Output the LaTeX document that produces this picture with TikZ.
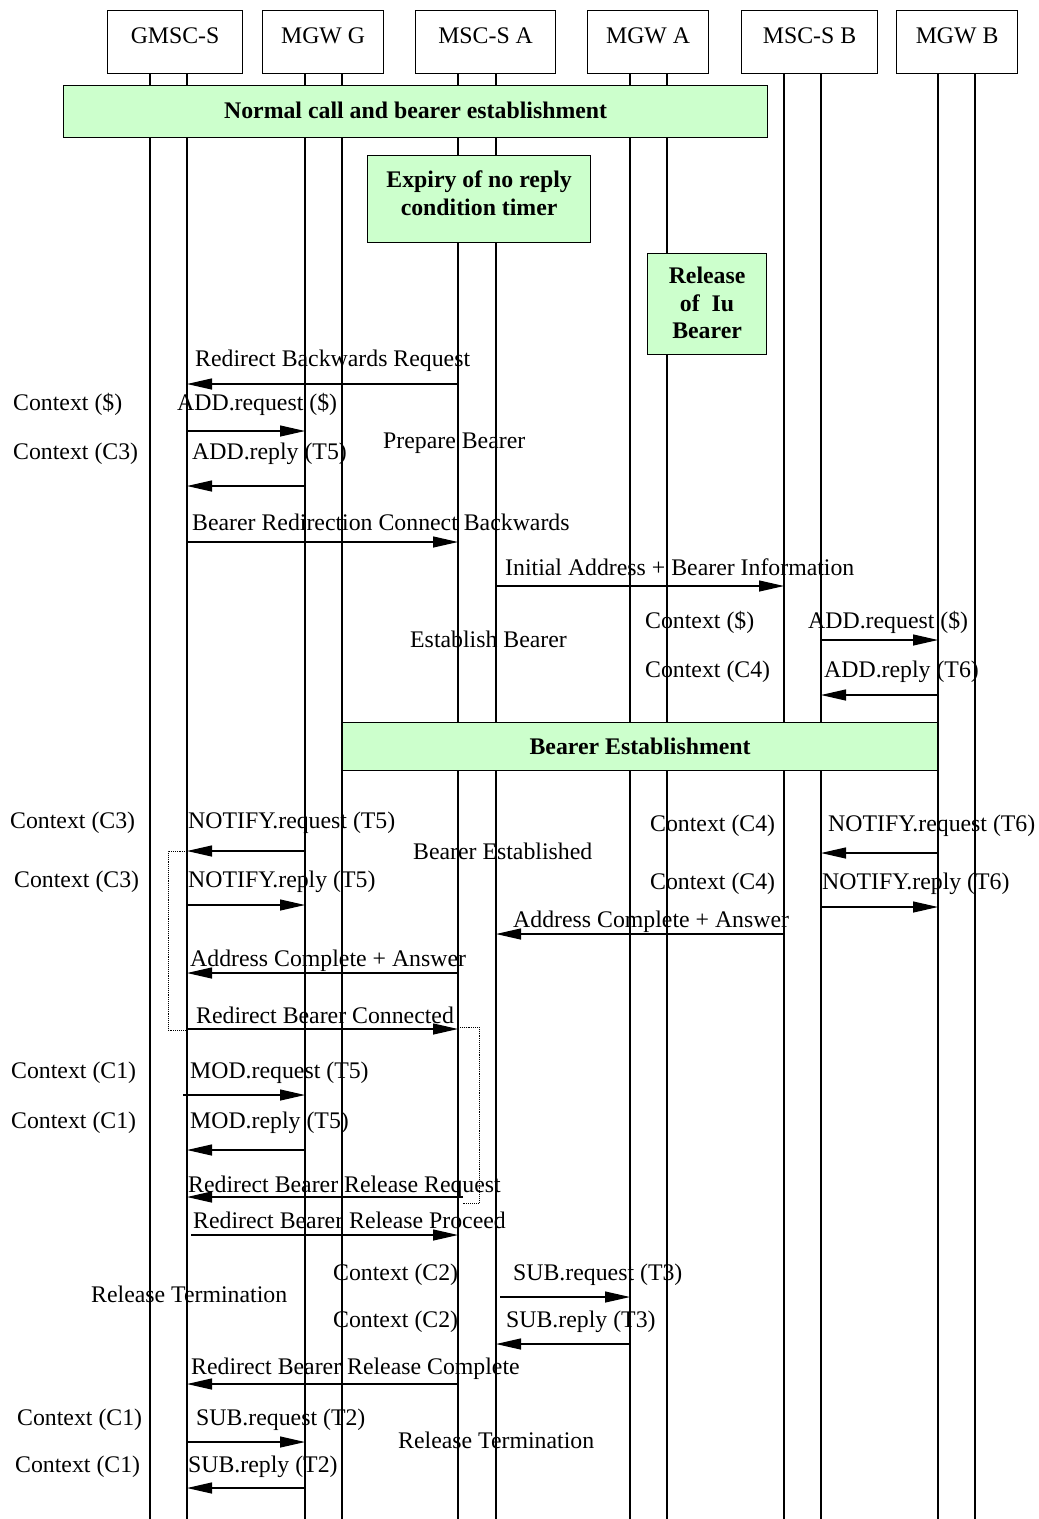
\documentclass[tikz,border=0pt]{standalone}
\usepackage{fontspec}
\setmainfont{Liberation Serif}
\usetikzlibrary{arrows.meta}
\definecolor{palegreen}{HTML}{CCFFCC}
\tikzset{
  every node/.style={font=\fontsize{23.8}{28}\selectfont},
  headbox/.style={draw, line width=1.2pt, anchor=north west, inner sep=0},
  greenbox/.style={draw, line width=1.2pt, fill=palegreen, anchor=north west, inner sep=0},
  life/.style={line width=1.2pt},
  msg/.style={line width=1.2pt, -{Triangle[length=25pt,width=11pt]}},
  txt/.style={anchor=base west, inner sep=0},
  ctxt/.style={anchor=base, inner sep=0},
  bracket/.style={line width=0.9pt, densely dotted}
}
\newcommand{\msgarrow}[3]{\draw[msg] (#1 |- 0,#3) -- (#2 |- 0,#3);}
\begin{document}
\begin{tikzpicture}[x=1pt,y=-1pt]
\useasboundingbox (0,0) rectangle (1039,1519);
% lifeline anchors
\coordinate (gL) at (150,73);  \coordinate (gR) at (187,73);
\coordinate (mgL) at (305,73); \coordinate (mgR) at (342,73);
\coordinate (aL) at (458,73);  \coordinate (aR) at (496,73);
\coordinate (maL) at (630,73); \coordinate (maR) at (667,73);
\coordinate (bL) at (784,73);  \coordinate (bR) at (821,73);
\coordinate (mbL) at (938,73); \coordinate (mbR) at (975,73);
\foreach \c in {gL,gR,mgL,mgR,aL,aR,maL,maR,bL,bR,mbL,mbR}
  \draw[life] (\c) -- (\c |- 0,1519);
% head boxes
\node[headbox, minimum width=135pt, minimum height=63pt] (gmsc) at (107,10) {};
\node[headbox, minimum width=121pt, minimum height=63pt] (mgwg) at (262,10) {};
\node[headbox, minimum width=140pt, minimum height=63pt] (msca) at (415,10) {};
\node[headbox, minimum width=121pt, minimum height=63pt] (mgwa) at (587,10) {};
\node[headbox, minimum width=136pt, minimum height=63pt] (mscb) at (741,10) {};
\node[headbox, minimum width=121pt, minimum height=63pt] (mgwb) at (896,10) {};
\node[ctxt] (gmscT) at (gmsc.north |- 0,43) {GMSC-S};
\node[ctxt] (mgwgT) at (mgwg.north |- 0,43) {MGW G};
\node[ctxt] (mscaT) at (msca.north |- 0,43) {MSC-S A};
\node[ctxt] (mgwaT) at (mgwa.north |- 0,43) {MGW A};
\node[ctxt] (mscbT) at (mscb.north |- 0,43) {MSC-S B};
\node[ctxt] (mgwbT) at (mgwb.north |- 0,43) {MGW B};
% green boxes
\node[greenbox, minimum width=704pt, minimum height=52pt] (normal) at (63,85) {};
\node[ctxt] (normalT) at (normal.north |- 0,118) {\bfseries Normal call and bearer establishment};
\node[greenbox, minimum width=223pt, minimum height=87pt] (expiry) at (367,155) {};
\node[ctxt] (expiryT1) at (expiry.north |- 0,187) {\bfseries Expiry of no reply};
\node[ctxt] (expiryT2) at (expiry.north |- 0,215) {\bfseries condition timer};
\node[greenbox, minimum width=119pt, minimum height=101pt] (iu) at (647,253) {};
\node[ctxt] (iuT1) at (iu.north |- 0,283) {\bfseries Release};
\node[ctxt] (iuT2) at (iu.north |- 0,311) {\bfseries of~ Iu};
\node[ctxt] (iuT3) at (iu.north |- 0,338) {\bfseries Bearer};
\node[greenbox, minimum width=595pt, minimum height=48pt] (bearest) at (342,722) {};
\node[ctxt] (bearestT) at (bearest.north |- 0,754) {\bfseries Bearer Establishment};
% messages
\msgarrow{aL}{gR}{384}
\msgarrow{gR}{mgL}{431}
\msgarrow{mgL}{gR}{486}
\msgarrow{gR}{aL}{542}
\msgarrow{aR}{bL}{586}
\msgarrow{bR}{mbL}{640}
\msgarrow{mbL}{bR}{695}
\msgarrow{mgL}{gR}{851}
\msgarrow{mbL}{bR}{853}
\msgarrow{gR}{mgL}{905}
\msgarrow{bR}{mbL}{907}
\msgarrow{bL}{aR}{934}
\msgarrow{aL}{gR}{973}
\msgarrow{gR}{aL}{1029}
\coordinate (modS) at (183,1095);
\draw[msg] (modS) -- (mgL |- modS);
\msgarrow{mgL}{gR}{1150}
\coordinate (rbrrS) at (463,1197);
\draw[msg] (rbrrS) -- (gR |- rbrrS);
\coordinate (rbrpS) at (191,1235);
\draw[msg] (rbrpS) -- (aL |- rbrpS);
\coordinate (subS) at (500,1297);
\draw[msg] (subS) -- (maL |- subS);
\msgarrow{maL}{aR}{1344}
\msgarrow{aL}{gR}{1384}
\msgarrow{gR}{mgL}{1442}
\msgarrow{mgL}{gR}{1488}
% dotted brackets
\draw[bracket] (gR |- 0,851) -- (168,851) -- (168,1030) -- (gR |- 0,1030);
\draw[bracket] (aL |- 0,1027) -- (479,1027) -- (479,1203) -- (463,1203);
% labels
\node[txt] (t1) at (195,366) {Redirect Backwards Request};
\node[txt] (t2) at (13,410) {Context (\$)};
\node[txt] (t3) at (177,410) {ADD.request (\$)};
\node[txt] (t4) at (13,459) {Context (C3)};
\node[txt] (t5) at (192,459) {ADD.reply (T5)};
\node[txt] (t6) at (383,448) {Prepare Bearer};
\node[txt] (t7) at (192,530) {Bearer Redirection Connect Backwards};
\node[txt] (t8) at (505,575) {Initial Address + Bearer Information};
\node[txt] (t9) at (645,628) {Context (\$)};
\node[txt] (t10) at (808,628) {ADD.request (\$)};
\node[txt] (t11) at (410,647) {Establish Bearer};
\node[txt] (t12) at (645,677) {Context (C4)};
\node[txt] (t13) at (824,677) {ADD.reply (T6)};
\node[txt] (t14) at (10,828) {Context (C3)};
\node[txt] (t15) at (188,828) {NOTIFY.request (T5)};
\node[txt] (t16) at (413,859) {Bearer Established};
\node[txt] (t17) at (650,831) {Context (C4)};
\node[txt] (t18) at (828,831) {NOTIFY.request (T6)};
\node[txt] (t19) at (14,887) {Context (C3)};
\node[txt] (t20) at (188,887) {NOTIFY.reply (T5)};
\node[txt] (t21) at (650,889) {Context (C4)};
\node[txt] (t22) at (822,889) {NOTIFY.reply (T6)};
\node[txt] (t23) at (513,927) {Address Complete + Answer};
\node[txt] (t24) at (190,966) {Address Complete + Answer};
\node[txt] (t25) at (196,1023) {Redirect Bearer Connected};
\node[txt] (t26) at (11,1078) {Context (C1)};
\node[txt] (t27) at (190,1078) {MOD.request (T5)};
\node[txt] (t28) at (11,1128) {Context (C1)};
\node[txt] (t29) at (190,1128) {MOD.reply (T5)};
\node[txt] (t30) at (188,1192) {Redirect Bearer Release Request};
\node[txt] (t31) at (193,1228) {Redirect Bearer Release Proceed};
\node[txt] (t32) at (333,1280) {Context (C2)};
\node[txt] (t33) at (513,1280) {SUB.request (T3)};
\node[txt] (t34) at (91,1302) {Release Termination};
\node[txt] (t35) at (333,1327) {Context (C2)};
\node[txt] (t36) at (506,1327) {SUB.reply (T3)};
\node[txt] (t37) at (191,1374) {Redirect Bearer Release Complete};
\node[txt] (t38) at (17,1425) {Context (C1)};
\node[txt] (t39) at (196,1425) {SUB.request (T2)};
\node[txt] (t40) at (398,1448) {Release Termination};
\node[txt] (t41) at (15,1472) {Context (C1)};
\node[txt] (t42) at (188,1472) {SUB.reply (T2)};
\end{tikzpicture}
\end{document}
